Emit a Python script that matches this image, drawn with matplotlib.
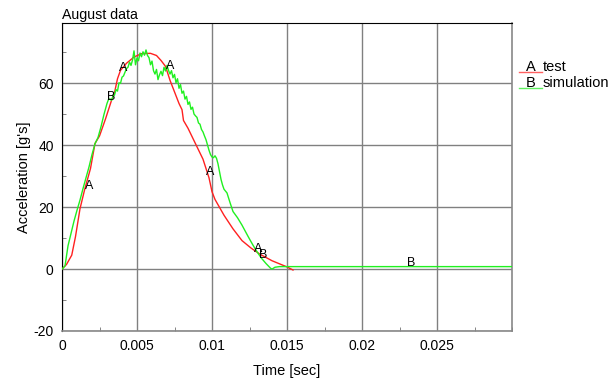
import matplotlib.pyplot as plt
from matplotlib.lines import Line2D
from matplotlib.ticker import MultipleLocator

plt.rcParams['font.family'] = ['Liberation Sans', 'DejaVu Sans']

# test record
test_t = [0, 0.0003, 0.00065, 0.0009, 0.0012, 0.0015, 0.0019, 0.0022, 0.0025, 0.0029,
          0.0033, 0.0035, 0.0037, 0.0039, 0.0043, 0.0048, 0.0053, 0.0059, 0.0063, 0.0066,
          0.0069, 0.0072, 0.0074, 0.0078, 0.0080, 0.0081, 0.0084, 0.0088, 0.0094, 0.0098,
          0.0100, 0.0102, 0.0108, 0.0114, 0.0120, 0.0126, 0.0132, 0.0140, 0.0146, 0.0150,
          0.0154]
test_a = [0, 1.5, 4.5, 10.5, 19.5, 25.5, 32.5, 40.6, 43.0, 48.5,
          54.5, 57.0, 61.5, 64.2, 66.5, 68.5, 69.6, 69.7, 69.0, 67.4,
          65.5, 61.0, 58.5, 53.5, 51.5, 48.0, 45.5, 41.5, 35.5, 29.5,
          25.0, 22.5, 17.4, 13.0, 9.2, 6.8, 4.8, 2.7, 1.5, 0.7,
          -0.3]

# simulation output
sim_t = [0, 0.0002, 0.0004, 0.0006, 0.0008, 0.0010, 0.0012, 0.0014, 0.0016, 0.0018,
         0.0020, 0.0022, 0.0024, 0.0026, 0.0028, 0.0030, 0.0031, 0.0032, 0.0033, 0.0034,
         0.0035, 0.0036, 0.0037, 0.0038, 0.0039, 0.0040, 0.0041,
         0.0042, 0.0043, 0.0044, 0.0045, 0.0046, 0.0047, 0.0048, 0.0049, 0.0050, 0.0051,
         0.0052, 0.0053, 0.0054, 0.0055, 0.0056, 0.0057, 0.0058, 0.0059, 0.0060, 0.0061,
         0.0062, 0.0063, 0.0064, 0.0065, 0.0066, 0.0067, 0.0068, 0.0069, 0.0070, 0.0071,
         0.0072, 0.0073, 0.0074, 0.0075, 0.0076, 0.0077, 0.0078, 0.0079, 0.0080, 0.0081,
         0.0082, 0.0083, 0.0084, 0.0085, 0.0086, 0.0087, 0.0088, 0.0089, 0.0090, 0.0091,
         0.0092, 0.0093, 0.0094, 0.0095, 0.0096, 0.0097, 0.0098, 0.0099,
         0.0100, 0.0101, 0.0102, 0.0103, 0.0104, 0.0105, 0.0106, 0.0107, 0.0108, 0.0109,
         0.0110, 0.0112, 0.0114, 0.0117, 0.0120, 0.0124, 0.0127, 0.0130, 0.0133, 0.0136,
         0.0139, 0.0140, 0.0142, 0.0145, 0.0300]
sim_a = [0, 1.0, 7.5, 11.5, 15.5, 19.0, 22.3, 26.0, 29.5, 33.0,
         37.0, 40.5, 42.5, 46.0, 50.0, 53.5, 54.8, 55.0, 54.5, 55.8,
         56.2, 58.0, 57.5, 60.2, 60.0, 62.0, 62.4,
         63.6, 64.8, 65.2, 66.9, 65.8, 67.5, 70.5, 66.0, 68.2, 67.3,
         69.8, 68.6, 70.2, 69.1, 70.8, 69.0, 68.3, 66.0, 67.2, 64.1,
         63.0, 64.5, 61.2, 62.8, 63.9, 62.5, 65.2, 64.0, 65.8, 64.2,
         63.0, 64.1, 61.8, 62.9, 60.2, 61.5, 58.4, 59.6, 56.8, 57.5,
         54.9, 55.8, 53.2, 54.0, 51.6, 52.3, 50.1, 49.5, 49.0, 47.2,
         46.8, 45.1, 44.3, 43.0, 41.8, 40.1, 38.4, 37.0,
         36.2, 36.0, 36.6, 35.8, 34.0, 31.5, 29.0, 27.2, 25.8, 25.2,
         24.6, 21.5, 18.6, 16.6, 14.2, 10.6, 8.0, 5.6, 3.5, 1.8,
         0.3, 0.0, 0.6, 0.8, 0.8]

# curve identifier letters along each trace
test_mark_t = [0.0018, 0.0041, 0.0072, 0.0099, 0.0131]
test_mark_a = [27.0, 65.0, 65.5, 31.5, 6.5]
sim_mark_t = [0.0033, 0.0134, 0.0233]
sim_mark_a = [55.5, 4.6, 2.0]

fig = plt.figure(figsize=(6.1, 3.81), dpi=100)
ax = fig.add_axes([62 / 610, 1 - 331 / 381, 450 / 610, 308 / 381])

ax.plot(test_t, test_a, color='#ff2020', lw=1.0, zorder=3)
ax.plot(sim_t, sim_a, color='#20f020', lw=1.0, zorder=3)

for t, a in zip(test_mark_t, test_mark_a):
    ax.text(t, a, 'A', fontsize=9, ha='center', va='center', zorder=4)
for t, a in zip(sim_mark_t, sim_mark_a):
    ax.text(t, a, 'B', fontsize=9, ha='center', va='center', zorder=4)

ax.set_xlim(0, 0.03)
ax.set_ylim(-20, 79.5)
ax.xaxis.set_minor_locator(MultipleLocator(0.0025))
ax.yaxis.set_minor_locator(MultipleLocator(10))
ax.set_xticks([0, 0.005, 0.01, 0.015, 0.02, 0.025])
ax.set_xticklabels(['0', '0.005', '0.01', '0.015', '0.02', '0.025'])
ax.set_yticks([-20, 0, 20, 40, 60])
ax.set_yticklabels(['-20', '0', '20', '40', '60'])

ax.grid(True, which='major', color='#808080', lw=1.0)
ax.tick_params(which='major', length=0, labelsize=10, pad=6)
ax.tick_params(which='minor', direction='in', length=3, color='#707070')

for side in ['left', 'top']:
    ax.spines[side].set_color('black')
for side in ['right', 'bottom']:
    ax.spines[side].set_color('#888888')
    ax.spines[side].set_linewidth(1.2)

ax.set_xlabel('Time [sec]', fontsize=10.5, labelpad=8)
ax.set_ylabel("Acceleration [g's]", fontsize=10.5, labelpad=2)
ax.set_title('August data', fontsize=10.2, loc='left', pad=3)

# legend to the right of the plot
fig.text(531 / 610, 1 - 67 / 381, 'A', fontsize=10.5, ha='center', va='center')
fig.text(543 / 610, 1 - 67 / 381, 'test', fontsize=10.5, ha='left', va='center')
fig.add_artist(Line2D([519 / 610, 542 / 610], [1 - 72 / 381, 1 - 72 / 381],
                      color='#ff6060', lw=1.0))
fig.text(531 / 610, 1 - 83 / 381, 'B', fontsize=10.5, ha='center', va='center')
fig.text(543 / 610, 1 - 83 / 381, 'simulation', fontsize=10.5, ha='left', va='center')
fig.add_artist(Line2D([519 / 610, 542 / 610], [1 - 88 / 381, 1 - 88 / 381],
                      color='#60f060', lw=1.0))

fig.savefig('out.png', dpi=100)
